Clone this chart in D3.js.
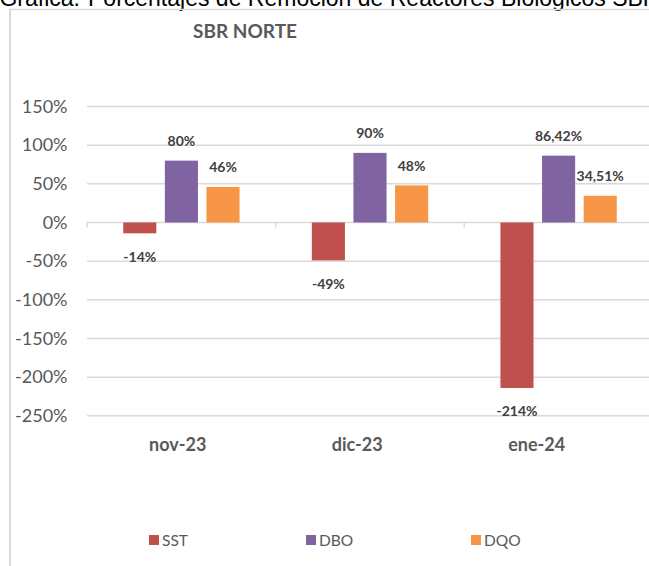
<!DOCTYPE html>
<html>
<head>
<meta charset="utf-8">
<script src="https://cdn.jsdelivr.net/npm/d3@7"></script>
<style>
  html, body { margin: 0; padding: 0; background: #fff; overflow: hidden; }
  svg { display: block; }
</style>
</head>
<body>
<svg id="chart" width="649" height="566"></svg>
<script>
const categories = ["nov-23", "dic-23", "ene-24"];
const seriesNames = ["SST", "DBO", "DQO"];
const sstValues = [-14, -49, -214];
const dboValues = [80, 90, 86.42];
const dqoValues = [46, 48, 34.51];
const valueLabels = {
  SST: ["-14%", "-49%", "-214%"],
  DBO: ["80%", "90%", "86,42%"],
  DQO: ["46%", "48%", "34,51%"]
};
const yTicks = [150, 100, 50, 0, -50, -100, -150, -200, -250];
const colors = { SST: "#C0504D", DBO: "#8064A2", DQO: "#F79646" };

const seriesValues = { SST: sstValues, DBO: dboValues, DQO: dqoValues };

const svg = d3.select("#chart");
const FONT = "Lato, 'Open Sans', sans-serif";

// Caption text cut at the top of the page
svg.append("text").attr("x", 80).attr("y", 5.5).attr("text-anchor", "end")
  .attr("font-family", "'Liberation Sans', Arial, sans-serif").attr("font-size", 23)
  .attr("fill", "#000").text("Gráfica.");
svg.append("text").attr("x", 88).attr("y", 5.5)
  .attr("font-family", "'Liberation Sans', Arial, sans-serif").attr("font-size", 23)
  .attr("fill", "#000").text("Porcentajes de Remoción de Reactores Biológicos SBR");

// Chart frame
svg.append("line").attr("x1", 10).attr("x2", 10).attr("y1", 9).attr("y2", 566)
  .attr("stroke", "#d9d9d9").attr("stroke-width", 2);
svg.append("line").attr("x1", 9).attr("x2", 649).attr("y1", 9.5).attr("y2", 9.5)
  .attr("stroke", "#d9d9d9").attr("stroke-width", 1.5);

// Title
svg.append("text").attr("x", 245).attr("y", 38).attr("text-anchor", "middle")
  .attr("font-family", FONT).attr("font-weight", "bold").attr("font-size", 19)
  .attr("fill", "#595959").text("SBR NORTE");

const plotLeft = 87.1, plotRight = 652.9;
const x = d3.scaleBand().domain(categories).range([plotLeft, plotRight]).padding(0);
const xs = d3.scaleBand().domain(seriesNames).range([0, x.bandwidth()])
  .paddingInner(0.205).paddingOuter(0.868);
const y = d3.scaleLinear().domain([-250, 150]).range([415.8, 106.5]);

// Gridlines
svg.append("g").selectAll("line").data(yTicks).join("line")
  .attr("x1", plotLeft).attr("x2", 649)
  .attr("y1", d => y(d)).attr("y2", d => y(d))
  .attr("stroke", "#d9d9d9").attr("stroke-width", 1.5);

// Y tick labels
svg.append("g").selectAll("text").data(yTicks).join("text")
  .attr("x", 67.5).attr("y", d => y(d)).attr("dy", "0.35em")
  .attr("text-anchor", "end").attr("font-family", FONT).attr("font-size", 18)
  .attr("fill", "#595959").text(d => d + "%");

// Category axis ticks on zero line
const boundaries = categories.map(c => x(c)).concat([plotRight]);
svg.append("g").selectAll("line").data(boundaries).join("line")
  .attr("x1", d => d).attr("x2", d => d)
  .attr("y1", y(0)).attr("y2", y(0) + 5)
  .attr("stroke", "#d9d9d9").attr("stroke-width", 1.5);

// Bars
seriesNames.forEach(s => {
  const g = svg.append("g");
  g.selectAll("rect").data(categories).join("rect")
    .attr("x", c => x(c) + xs(s))
    .attr("width", xs.bandwidth())
    .attr("y", (c, i) => y(Math.max(0, seriesValues[s][i])))
    .attr("height", (c, i) => Math.abs(y(seriesValues[s][i]) - y(0)))
    .attr("fill", colors[s]);
  g.selectAll("text").data(categories).join("text")
    .attr("x", c => x(c) + xs(s) + xs.bandwidth() / 2)
    .attr("y", (c, i) => {
      const v = seriesValues[s][i];
      return v >= 0 ? y(v) - 14.5 : y(v) + 28.5;
    })
    .attr("text-anchor", "middle").attr("font-family", FONT)
    .attr("font-weight", "bold").attr("font-size", 14)
    .attr("fill", "#404040")
    .text((c, i) => valueLabels[s][i]);
});

// Category labels (placed as in the reference)
const xl = d3.scalePoint().domain(categories).range([177.7, 536.7]);
svg.append("g").selectAll("text").data(categories).join("text")
  .attr("x", c => xl(c)).attr("y", 451)
  .attr("text-anchor", "middle").attr("font-family", FONT)
  .attr("font-weight", "bold").attr("font-size", 18)
  .attr("fill", "#595959").text(c => c);

// Legend
const legendX = { SST: 149, DBO: 306, DQO: 471 };
const lg = svg.append("g");
seriesNames.forEach(s => {
  lg.append("rect").attr("x", legendX[s]).attr("y", 535).attr("width", 10).attr("height", 10)
    .attr("fill", colors[s]);
  lg.append("text").attr("x", legendX[s] + 13).attr("y", 546)
    .attr("font-family", FONT).attr("font-size", 15.5)
    .attr("fill", "#595959").text(s);
});
</script>
</body>
</html>
